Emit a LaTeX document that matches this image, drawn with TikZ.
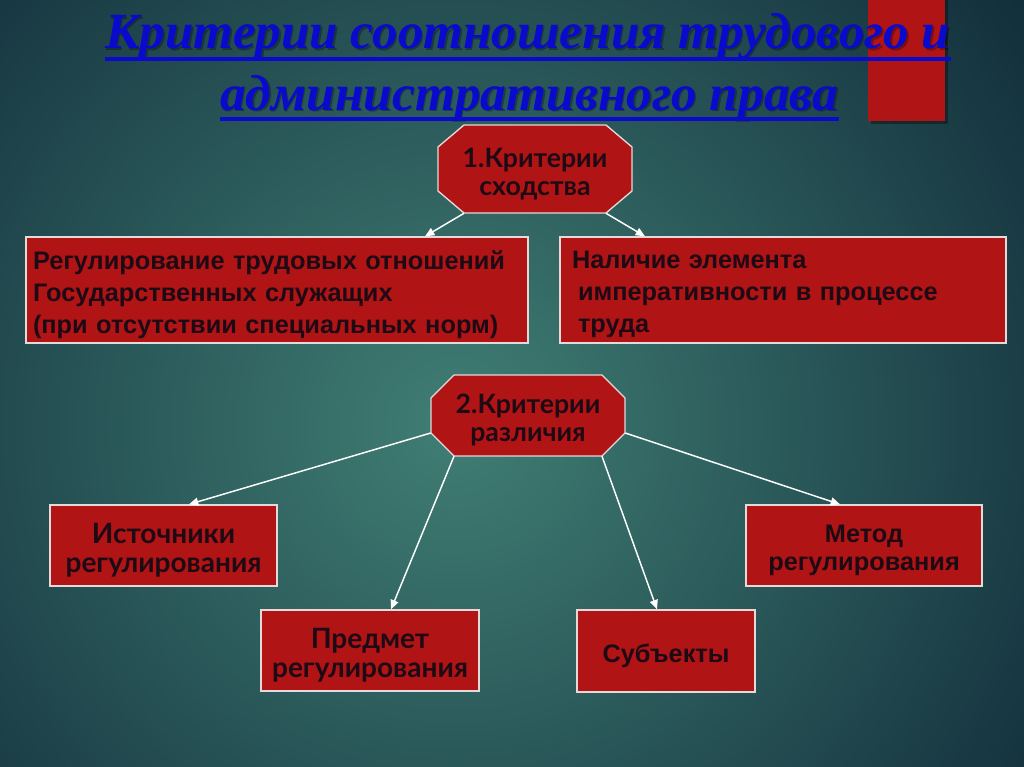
\documentclass[tikz,border=0pt]{standalone}
\usepackage{fontspec}
\setmainfont{Liberation Sans}
\newfontfamily\gothic{Lato}
\newfontfamily\titlefont{Liberation Serif}
\usetikzlibrary{arrows.meta}

\definecolor{bgin}{RGB}{64,126,116}
\definecolor{bgout}{RGB}{12,36,52}
\definecolor{boxred}{RGB}{176,20,20}
\definecolor{boxline}{RGB}{228,218,218}
\definecolor{ink}{RGB}{30,10,20}
\definecolor{titleblue}{RGB}{10,10,205}

% push the text of a box a little down
\newcommand\lowered[1]{\raisebox{0pt}[\dimexpr\height+7pt\relax]{#1}}

\tikzset{
  redbox/.style={draw=boxline, fill=boxred, line width=1pt, text=ink, inner sep=0pt,
    font=\bfseries\fontsize{19}{24}\selectfont},
  octshape/.style={draw=boxline, fill=boxred, line width=1pt},
  octtext/.style={inner sep=0pt, text=ink, align=center, minimum width=145.5pt,
    font=\gothic\bfseries\fontsize{20}{21}\selectfont},
  gothbox/.style={redbox, align=center, font=\gothic\bfseries\fontsize{21}{22}\selectfont},
  arr/.style={draw=white, line width=1.1pt, -{Triangle[length=7pt,width=6pt]}},
  titletext/.style={inner sep=0pt, anchor=base west, text=titleblue,
    font=\titlefont\bfseries\itshape\fontsize{38}{44}\selectfont},
  uline/.style={draw=titleblue, line width=3pt},
}

\begin{document}
\begin{tikzpicture}[x=0.75pt,y=0.75pt,yscale=-1,xscale=1]
\useasboundingbox (0,0) rectangle (1024,767);

% background
\fill[bgout] (0,0) rectangle (1024,767);
\begin{scope}
\clip (0,0) rectangle (1024,767);
\shade[inner color=bgin, outer color=bgout] (455,425) circle (800);
\end{scope}

% red bar
\fill[black, opacity=0.35] (871,0) rectangle (948,124);
\fill[boxred] (868,0) rectangle (945,121);

% Title
\node[titletext, text=black, opacity=0.3] at (106.5,50.5) {\resizebox{633.75pt}{\height}{Критерии соотношения трудового и}};
\node[titletext, text=black, opacity=0.3] at (221.5,111.5) {\resizebox{463.5pt}{\height}{административного права}};
\node[titletext] (title1) at (105,49) {\resizebox{633.75pt}{\height}{Критерии соотношения трудового и}};
\node[titletext] (title2) at (220,110) {\resizebox{463.5pt}{\height}{административного права}};
\draw[uline] ([shift={(0,10.5)}]title1.base west) -- ([shift={(0,10.5)}]title1.base east);
\draw[uline] ([shift={(0,9)}]title2.base west) -- ([shift={(0,9)}]title2.base east);

% Criteria of similarity
\coordinate (c1) at (535,169);
\draw[octshape] (c1) ++(-71,-44) -- ++(142,0) -- ++(26,22) -- ++(0,44) -- ++(-26,22)
  -- ++(-142,0) -- ++(-26,-22) -- ++(0,-44) -- cycle;
\node[octtext, minimum height=66pt] (crit1) at (c1) {\lowered{1.Критерии}\\сходства};
\node[redbox, minimum width=376.5pt, minimum height=79.5pt, text width=366pt, align=left] (simA) at (277,290)
  {\lowered{Регулирование трудовых отношений}\\Государственных служащих\\(при отсутствии специальных норм)};
\node[redbox, minimum width=334.5pt, minimum height=79.5pt, text width=316.5pt, align=left] (simB) at (783,290)
  {\lowered{Наличие элемента}\\\hspace*{4.5pt}императивности в процессе\\\hspace*{4.5pt}труда};

% Criteria of difference
\coordinate (c2) at (528,415.5);
\draw[octshape] (c2) ++(-74,-40.5) -- ++(148,0) -- ++(23,23) -- ++(0,35) -- ++(-23,23)
  -- ++(-148,0) -- ++(-23,-23) -- ++(0,-35) -- cycle;
\node[octtext, minimum height=60.75pt] (crit2) at (c2) {\lowered{2.Критерии}\\различия};
\node[gothbox, minimum width=170.25pt, minimum height=60.75pt] (difC) at (163.5,545.5) {\lowered{Источники}\\регулирования};
\node[gothbox, minimum width=163.5pt, minimum height=60.75pt] (difD) at (370,650.5) {\lowered{Предмет}\\регулирования};
\node[redbox, minimum width=133.5pt, minimum height=61.5pt] (difE) at (666,651) {\lowered{Субъекты}};
\node[redbox, minimum width=177pt, minimum height=60.75pt, align=center,
  font=\bfseries\fontsize{19}{21}\selectfont] (difF) at (864,545.5) {\lowered{Метод}\\регулирования};

% Arrows
\draw[arr] ([shift={(-71,0)}]crit1.south) -- ([shift={(148,0)}]simA.north);
\draw[arr] ([shift={(71,0)}]crit1.south) -- ([shift={(-138,0)}]simB.north);
\draw[arr] ([shift={(0,17.5)}]crit2.west) -- ([shift={(25.5,0)}]difC.north);
\draw[arr] ([shift={(-74,0)}]crit2.south) -- ([shift={(21,0)}]difD.north);
\draw[arr] ([shift={(74,0)}]crit2.south) -- ([shift={(-9,0)}]difE.north);
\draw[arr] ([shift={(0,17.5)}]crit2.east) -- ([shift={(-24,0)}]difF.north);

\end{tikzpicture}
\end{document}
